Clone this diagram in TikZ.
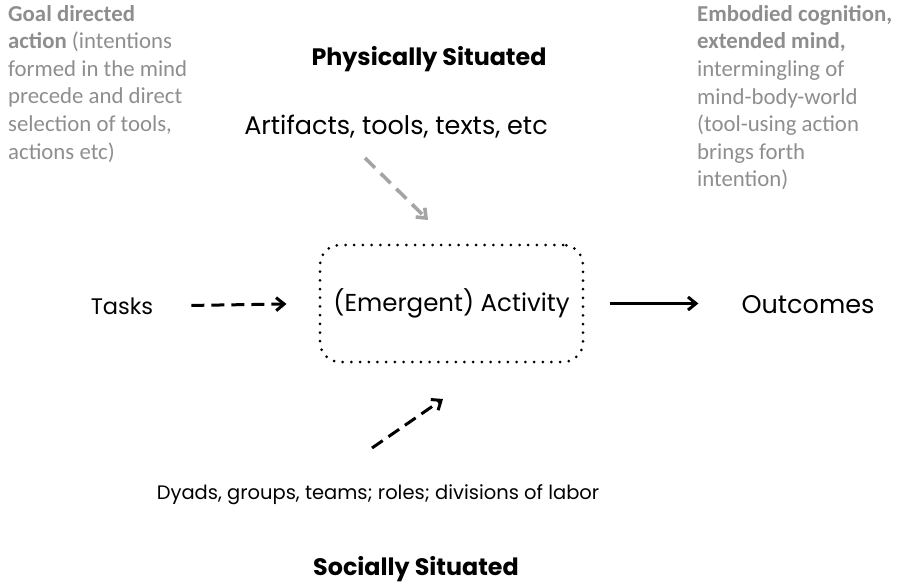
\documentclass[tikz,border=0pt]{standalone}
\usepackage{fontspec}
\setmainfont{Poppins}
\newfontfamily\notefont{Carlito}
\usetikzlibrary{calc,arrows.meta}
\definecolor{notegray}{HTML}{8E8E8E}
\definecolor{arrowgray}{HTML}{A4A4A4}
\begin{document}
\begin{tikzpicture}[x=1pt,y=-1pt,
	label/.style={inner sep=0pt, font=\fontsize{24.5}{28}\selectfont},
	heading/.style={inner sep=0pt, font=\fontsize{23.8}{26}\selectfont\bfseries},
	note/.style={inner sep=0pt, anchor=north west, align=left, text=notegray,
		font=\notefont\fontsize{22.8}{27.6}\selectfont},
	flow/.style={line width=3pt, -{Straight Barb[length=8pt,width=13pt]}},
	dashflow/.style={flow, dash pattern=on 13pt off 7pt}]
	\useasboundingbox (0,0) rectangle (900,586);
	\node (goal)     at (8, 5)     [note]	{\textbf{Goal directed}\\\textbf{action} (intentions\\formed in the mind\\precede and direct\\selection of tools,\\actions etc)};
	\node (embodied) at (697, 5)   [note]	{\textbf{Embodied cognition,}\\\textbf{extended mind,}\\intermingling of\\mind-body-world\\(tool-using action\\brings forth\\intention)};
	\node (phys)     at (429, 59)  [heading]	{Physically Situated};
	\node (artifacts) at (396, 127) [label, font=\fontsize{25.5}{28}\selectfont]	{Artifacts, tools, texts, etc};
	\node (activity) at (451.5, 303.5) [label, draw, line width=3pt, line cap=round,
		dash pattern=on 0pt off 8.7pt, rounded corners=20pt,
		minimum width=263pt, minimum height=117pt]	{(Emergent) Activity};
	\node (tasks)    at (122, 306) [label, font=\fontsize{22.5}{28}\selectfont]	{Tasks};
	\node (outcomes) at (808, 305) [label, font=\fontsize{25.5}{28}\selectfont]	{Outcomes};
	\node (dyads)    at (378, 495) [label, font=\fontsize{19.5}{28}\selectfont]	{Dyads, groups, teams; roles; divisions of labor};
	\node (social)   at (416, 569) [heading]	{Socially Situated};
	\draw[dashflow, draw=arrowgray, line width=3.6pt, dash pattern=on 14pt off 8pt] ($(artifacts)+(-31,31)$) -- ($(activity)+(-23.5,-83.5)$);
	\draw[dashflow, shorten <=38pt, shorten >=32pt] (tasks.east) -- (activity.west);
	\draw[flow, shorten <=25pt, shorten >=43pt] (activity.east) -- (outcomes.west |- activity.east);
	\draw[dashflow] ($(dyads)+(-6,-47)$) -- ($(activity)+(-8.5,95.5)$);
\end{tikzpicture}
\end{document}
